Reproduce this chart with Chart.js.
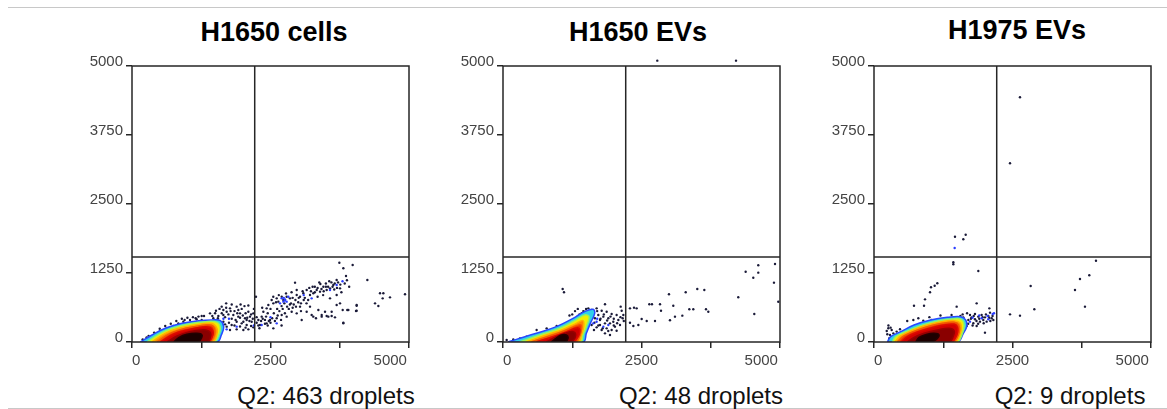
<!DOCTYPE html>
<html>
<head>
<meta charset="utf-8">
<script src="https://cdn.jsdelivr.net/npm/chart.js@4.4.1/dist/chart.umd.min.js"></script>
<style>
  body {
    margin: 0;
    width: 1167px;
    height: 409px;
    background: #fff;
    position: relative;
    overflow: hidden;
    font-family: Arial, "Liberation Sans", sans-serif;
  }
  .rule { position: absolute; left: 8px; right: 0; height: 1px; background: #c8c8c8; }
  .panel { position: absolute; top: 50px; width: 352px; height: 322px; }
  .title {
    position: absolute; width: 300px; text-align: center;
    font-weight: bold; font-size: 27px; line-height: 27px; color: #000;
  }
  .footer {
    position: absolute; width: 300px; text-align: center;
    font-size: 24px; line-height: 24px; color: #111; top: 384px;
  }
</style>
</head>
<body>
  <div class="rule" style="top:7px"></div>
  <div class="rule" style="top:408px"></div>

  <div class="title" style="left:124px; top:19px">H1650 cells</div>
  <div class="title" style="left:488px; top:19px">H1650 EVs</div>
  <div class="title" style="left:867px; top:17px">H1975 EVs</div>

  <div class="panel" style="left:72px"><canvas id="cells-chart" width="352" height="322"></canvas></div>
  <div class="panel" style="left:443px"><canvas id="evs-chart" width="352" height="322"></canvas></div>
  <div class="panel" style="left:814px"><canvas id="h1975-chart" width="352" height="322"></canvas></div>

  <div class="footer" style="left:176px">Q2: 463 droplets</div>
  <div class="footer" style="left:551px">Q2: 48 droplets</div>
  <div class="footer" style="left:920px">Q2: 9 droplets</div>

<script>
// axes + gates
const axisMax = 5000;
const tickStep = 1250;
const xLabels = ["  0", "", "2500", "", "5000         "];
const gateX = 2215;
const gateY = 1540;

// density colour levels, outer -> inner
const levelColors = ["#30d0e8", "#f2ee00", "#ff8400", "#ee3000", "#d20000", "#8a0000", "#1c0000"];
const levelBorders = ["#2848ff", "#98f060", "#ffb000", "#f45a00", "#dc0a00", "#980000", "#260000"];

// H1650 cells
const cellsLevels = [
  [[150,0],[361,127],[602,248],[903,338],[1204,386],[1445,399],[1595,386],[1655,278],[1613,127],[1535,0]],
  [[271,0],[482,139],[722,248],[1023,326],[1324,368],[1535,356],[1595,248],[1553,97],[1475,0]],
  [[361,0],[602,157],[843,248],[1144,308],[1415,338],[1517,278],[1535,157],[1445,0]],
  [[452,0],[692,157],[963,248],[1234,296],[1433,302],[1493,217],[1475,97],[1397,0]],
  [[512,0],[753,145],[993,217],[1234,266],[1397,266],[1463,187],[1445,85],[1373,0]],
  [[632,0],[813,109],[1023,181],[1234,217],[1373,205],[1421,127],[1355,0]],
  [[753,0],[843,79],[993,139],[1174,157],[1264,127],[1234,36],[1174,0]],
];
const cellsDots = [
  [3743,1437],[3983,1395],[4248,1123],[3815,1335],[3863,1196],[3694,1123],[3634,1033],[3574,972],
  [3514,942],[3454,1002],[3394,912],[3334,942],[3273,882],[3213,851],[3153,942],[3093,882],
  [3033,821],[2973,942],[2943,1075],[2973,851],[2852,791],[2792,821],[2732,761],[2702,821],
  [2642,731],[2612,791],[2551,700],[2521,761],[2461,670],[2431,610],[2371,549],[2341,459],
  [2281,399],[2311,308],[2431,338],[2551,247],[2491,399],[2612,429],[2702,489],[2792,459],
  [2882,549],[2973,519],[3033,640],[3063,399],[3153,549],[3213,640],[3273,459],[3364,580],
  [3424,489],[3484,549],[3544,459],[3604,549],[3664,447],[3755,700],[3815,350],[3905,580],
  [4055,567],[4055,670],[3574,791],[3694,851],[3755,972],[4447,652],[4387,700],[4525,791],
  [4657,809],[4537,882],[4477,882],[4928,864],
  [1408,519],[1516,567],[1619,640],[1709,549],[1769,610],[1889,640],[1829,489],[1950,519],
  [2040,429],[2100,549],[2130,459],[2190,519],[2160,368],[2070,308],[1980,338],[1889,368],
  [1799,308],[1709,278],[1649,368],[1589,247],[1769,217],[1889,229],[2010,217],[2100,229],
  [2190,265],[1468,429],[1559,471],[1649,489],[1528,338],[1438,308],[1348,368],[1258,399],
  [1167,411],[1047,399],[927,368],[836,338],[746,290],[626,247],[506,187],[385,127],
  [265,84],[193,48],[1258,471],[1919,459],[2010,368],[2070,399],[1919,580],[1649,580],[2238,821],
  [2650,850],[2750,700],[2850,680],[2900,800],[2950,760],[2700,650],[2600,720],[2780,880],
  [2880,900],[3000,720],[2550,820],[2620,600],[3100,760],[3200,980],[3300,1000],[3400,1050],
  [3500,1000],[3600,1080],[3650,950],[3450,850],[3350,820],[3150,700],[3050,560],[2900,620],
  [2450,520],[2350,620],[2250,450],[2300,250],[2400,400],[2500,600],[2450,300],[2700,300],
  [3803,580],[3886,580],[4055,658],[4044,562],[3814,339],[3694,670],[3604,471],[3514,471],
  [3424,459],[3321,429],[3243,489],
  [2250,350],[2280,300],[2330,380],[2360,420],[2400,330],[2420,460],[2470,380],[2500,350],
  [2530,430],[2560,520],[2580,380],[2630,480],[2660,560],[2690,400],[2720,600],[2760,520],
  [2800,640],[2830,600],[2870,700],[2920,680],[2960,640],[3010,800],[3050,700],[3080,920],
  [3120,800],[3180,760],[3230,920],[3260,1000],[3300,900],[3350,980],[3380,1080],[3420,960],
  [3460,920],[3500,1060],[3540,1000],[3560,1100],[3620,1000],[3660,1060],[3700,980],[3720,1080],
  [3760,1040],[3780,900],[3840,1060],[3880,1120],[3920,1000],
  [1450,470],[1500,520],[1550,430],[1580,600],[1620,520],[1680,450],[1700,620],[1740,500],
  [1780,560],[1800,420],[1850,560],[1870,400],[1900,520],[1950,440],[1980,600],[2000,480],
  [2050,520],[2080,440],[2120,380],[2150,500],[2180,420],[2200,600],[2030,650],[1960,680],
  [1800,680],[1550,390],[1600,280],[1680,320],[1750,350],[1850,300],[1950,280],[2050,260],
  [2150,290],[1450,360],[1500,280],[2100,660],[1700,700],
  [700,330],[800,380],[900,420],[1000,440],[1100,450],[1200,460],[1300,470],[950,400],
  [1150,430],[600,290],[500,240],[400,170],[300,110],
];
const cellsBlueDots = [
  [2702,791],[2732,731],[2762,773],[2672,700],[2792,731],[2822,821],[2740,800],[2760,750],
  [3694,1033],[3574,942],[3243,791],[2612,338],[2341,308],[1889,278],[1709,229],[1528,265],
  [3800,1100],[3100,850],[2500,450],[2200,300],[1600,330],[1750,420],[1650,420],[1560,360],
];

// H1650 EVs
const evsLevels = [
  [[90,0],[241,48],[602,157],[963,278],[1264,429],[1475,550],[1625,592],[1655,519],[1577,338],[1505,157],[1445,0]],
  [[301,0],[662,127],[1023,248],[1294,387],[1475,489],[1553,459],[1505,278],[1445,127],[1397,0]],
  [[421,0],[783,127],[1084,229],[1324,338],[1445,387],[1457,278],[1415,127],[1355,0]],
  [[512,0],[843,109],[1114,205],[1324,296],[1409,308],[1409,187],[1373,85],[1312,0]],
  [[602,0],[903,97],[1144,181],[1324,254],[1385,229],[1373,127],[1324,48],[1264,0]],
  [[783,0],[963,97],[1114,157],[1264,187],[1312,127],[1264,24],[1174,0]],
  [[873,0],[963,72],[1054,127],[1144,127],[1174,66],[1114,0]],
];
const evsDots = [
  [1077,960],[1101,900],[1841,683],[2124,640],[2292,610],[2365,622],[2413,610],[2641,683],
  [2689,683],[2834,683],[2996,864],[3074,658],[3298,900],[3507,960],[3634,942],[4247,810],
  [4380,1274],[4518,1165],[4608,1390],[4608,1256],[4910,1413],[4891,1075],[4969,730],[4536,507],
  [2852,567],[3014,393],[3104,459],[3237,477],[3363,592],[3435,592],[3664,592],[3706,549],
  [2744,381],[2594,381],[2503,417],[2443,308],[2353,290],[2292,350],
  [1480,549],[1540,610],[1600,580],[1630,519],[1570,459],[1660,429],[1720,489],[1751,399],
  [1811,459],[1841,338],[1901,429],[1931,338],[1991,368],[2021,278],[2082,399],[2112,308],
  [2051,489],[1961,507],[1871,549],[1781,567],[1690,610],[1510,368],[1600,308],[1690,265],
  [1781,217],[1871,247],[1961,217],[2051,205],[1751,308],[1841,157],[1931,127],[2160,429],
  [2172,489],[2142,567],[1420,459],[1450,278],[1390,338],[1642,217],
  [1450,560],[1500,600],[1420,520],[1380,500],[1300,560],[1350,600],[1250,500],[1200,480],
  [1550,500],[1620,450],[1700,560],[1760,420],[1820,500],[1880,390],[1940,460],[2000,420],
  [2060,340],[2120,450],[2180,380],[1650,350],[1720,300],[1800,250],[1900,200],[2000,300],
  [1580,420],[1480,470],
  [66,36],[186,48],[306,66],[427,97],[607,217],[788,247],[968,290],
  [2785,5097],[4206,5097],
];
const evsBlueDots = [
  [1570,399],[1690,368],[1811,278],[1901,308],[1510,489],[1630,338],[1350,470],[1560,540],
  [1530,520],[1600,470],[1700,420],[1500,420],
];

// H1975 EVs
const h1975Levels = [
  [[241,0],[301,97],[482,187],[722,308],[1023,399],[1324,447],[1565,459],[1655,399],[1673,278],[1613,157],[1505,0]],
  [[331,0],[391,97],[572,187],[843,296],[1144,380],[1415,417],[1577,411],[1625,308],[1595,157],[1493,0]],
  [[373,0],[482,109],[662,199],[903,290],[1204,362],[1445,387],[1553,350],[1577,248],[1535,97],[1463,0]],
  [[421,0],[542,109],[722,193],[963,278],[1234,338],[1445,356],[1529,308],[1541,187],[1493,66],[1433,0]],
  [[482,0],[602,97],[783,181],[1023,254],[1264,308],[1445,320],[1505,266],[1505,157],[1463,60],[1397,0]],
  [[602,0],[722,85],[903,157],[1144,217],[1355,248],[1445,205],[1433,109],[1355,0]],
  [[753,0],[813,85],[933,133],[1084,157],[1174,127],[1114,36],[1023,0]],
];
const h1975Dots = [
  [1462,1908],[1655,1944],[1612,1861],[1432,1444],[1432,1408],[1883,1287],[1143,1063],[1095,1020],
  [1029,991],[1011,900],[921,773],[722,658],[903,658],[1492,640],[1853,700],[2082,610],
  [2003,169],[2455,501],[2635,477],[2828,1015],[2894,592],[3628,942],[3718,1142],[3886,1208],
  [4007,1473],[3808,640],[2635,4434],[2455,3238],
  [1522,399],[1582,429],[1642,369],[1703,399],[1763,447],[1823,411],[1883,459],[1943,490],
  [2003,447],[2063,471],[2124,429],[2094,532],[1973,399],[1913,369],[1793,339],[1673,290],
  [1853,290],[2033,369],[1552,327],[1612,447],[1733,490],[2154,399],[1823,508],
  [1500,450],[1560,470],[1600,500],[1680,520],[1750,420],[1800,470],[1850,380],[1900,420],
  [1960,450],[2020,500],[2080,440],[2140,470],[2100,380],[1700,330],[1780,300],[1620,300],
  [1880,330],[1980,340],
  [600,380],[800,430],[1000,450],[1200,480],[1400,490],
  [258,248],[319,218],[349,157],[289,127],[409,188],[469,230],[277,67],[379,97],
  [230,200],[260,300],[300,260],[240,140],[320,90],
  [710,399],[890,387],[1040,399],[1191,411],[1341,429],
];
const h1975BlueDots = [
  [1456,1703],[2166,520],[2142,508],[1943,429],[1733,369],[2063,411],
  [1620,420],[1780,440],[1900,480],[2050,470],
];

const pts = (arr) => arr.map(([x, y]) => ({ x, y }));
const inkColor = "#262626";
const tickFont = { family: "Arial, 'Liberation Sans', sans-serif", size: 15 };

const framePlugin = {
  id: "frame",
  afterDraw(chart) {
    const { ctx, chartArea: a } = chart;
    ctx.save();
    ctx.strokeStyle = inkColor;
    ctx.lineWidth = 1.5;
    ctx.strokeRect(a.left, a.top, a.right - a.left, a.bottom - a.top);
    ctx.restore();
  },
};

// droplets above the top of the scale are still shown in the original
const overflowPlugin = {
  id: "overflow",
  afterDatasetsDraw(chart) {
    const { ctx, chartArea: a } = chart;
    chart.data.datasets.forEach((ds, i) => {
      if (ds.clip !== false) return;
      chart.getDatasetMeta(i).data.forEach((p) => {
        if (p.y >= a.top - 1) return;
        ctx.save();
        ctx.fillStyle = ds.backgroundColor;
        ctx.beginPath();
        ctx.arc(p.x, p.y, ds.pointRadius, 0, Math.PI * 2);
        ctx.fill();
        ctx.restore();
      });
    });
  },
};

function buildDatasets(levels, dots, blueDots) {
  const sets = [
    { data: pts([[gateX, 0], [gateX, axisMax]]), showLine: true, borderColor: inkColor, borderWidth: 1.5, pointRadius: 0, order: 0 },
    { data: pts([[0, gateY], [axisMax, gateY]]), showLine: true, borderColor: inkColor, borderWidth: 1.5, pointRadius: 0, order: 0 },
  ];
  levels.forEach((poly, i) => {
    sets.push({
      data: pts(poly.concat([poly[0]])),
      showLine: true,
      fill: "shape",
      tension: 0.4,
      backgroundColor: levelColors[i],
      borderColor: levelBorders[i],
      borderWidth: 1.5,
      pointRadius: 0,
      order: 20 - i,
    });
  });
  sets.push({ data: pts(blueDots), backgroundColor: "#2a3cff", pointRadius: 1.2, borderWidth: 0, clip: false, order: 29 });
  sets.push({ data: pts(dots), backgroundColor: "#1a1a38", pointRadius: 1.2, borderWidth: 0, clip: false, order: 30 });
  return sets;
}

function makePanel(canvasId, levels, dots, blueDots) {
  new Chart(document.getElementById(canvasId), {
    type: "scatter",
    data: { datasets: buildDatasets(levels, dots, blueDots) },
    options: {
      responsive: false,
      animation: false,
      events: [],
      layout: { padding: { top: 16, right: 15, left: 0, bottom: 0 } },
      plugins: { legend: { display: false }, tooltip: { enabled: false } },
      scales: {
        x: {
          type: "linear",
          min: 0,
          max: axisMax,
          ticks: {
            stepSize: tickStep,
            autoSkip: false,
            maxRotation: 0,
            padding: 4,
            color: "#444",
            font: tickFont,
            callback: (v, i) => xLabels[i],
          },
          grid: { drawOnChartArea: false, tickLength: 6, color: inkColor, lineWidth: 1.5 },
          border: { display: false },
          afterFit(s) { s.height = 30; s.paddingLeft = 0; s.paddingRight = 0; },
        },
        y: {
          type: "linear",
          min: 0,
          max: axisMax,
          ticks: {
            stepSize: tickStep,
            padding: 3,
            labelOffset: -4,
            color: "#444",
            font: tickFont,
            callback: (v) => String(v),
          },
          grid: { drawOnChartArea: false, tickLength: 6, color: inkColor, lineWidth: 1.5 },
          border: { display: false },
          afterFit(s) { s.width = 60; s.paddingTop = 0; s.paddingBottom = 0; },
        },
      },
    },
    plugins: [framePlugin, overflowPlugin],
  });
}

makePanel("cells-chart", cellsLevels, cellsDots, cellsBlueDots);
makePanel("evs-chart", evsLevels, evsDots, evsBlueDots);
makePanel("h1975-chart", h1975Levels, h1975Dots, h1975BlueDots);
</script>
</body>
</html>
